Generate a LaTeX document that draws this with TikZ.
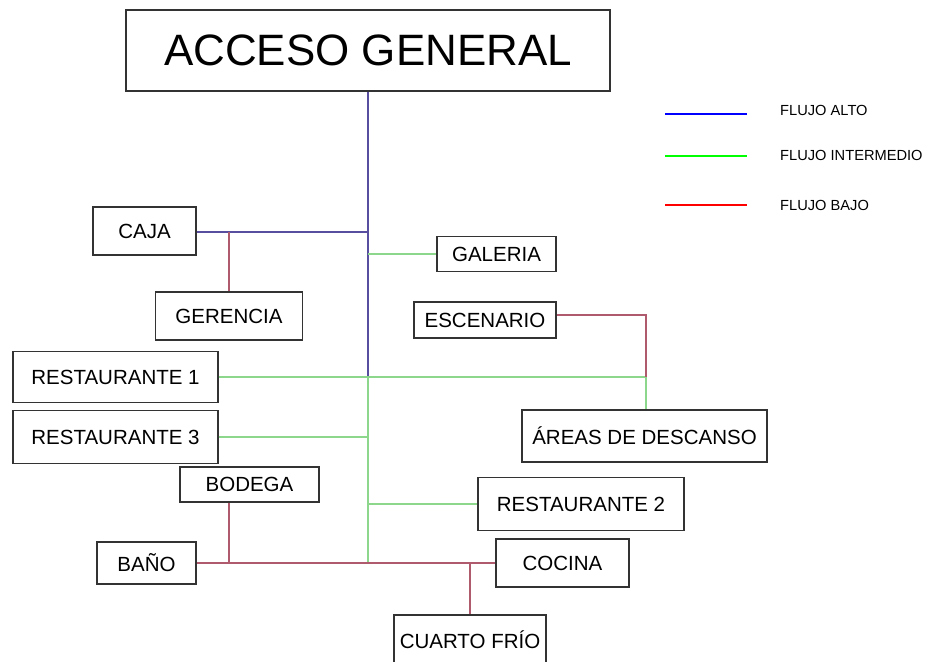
\documentclass[tikz,border=0pt]{standalone}
\usepackage{fontspec}
\setmainfont{Liberation Sans}
\usepackage{tikz}
\usepackage{xcolor}

\definecolor{altoC}{RGB}{88,78,160}
\definecolor{medioC}{RGB}{140,215,140}
\definecolor{bajoC}{RGB}{176,90,110}

\begin{document}
\begin{tikzpicture}[x=0.03cm, y=-0.03cm,
      box/.style={draw=black!80, line width=1.1pt, inner sep=0pt, align=center,
                  font=\fontsize{17.5}{20}\selectfont},
      size/.style 2 args={minimum width=#1*0.03cm, minimum height=#2*0.03cm},
      alto/.style={altoC, line width=0.9pt},
      medio/.style={medioC, line width=0.9pt},
      bajo/.style={bajoC, line width=0.9pt},
      key/.style={line width=2.2pt},
      keytext/.style={anchor=west, inner sep=0pt, font=\fontsize{12.5}{14}\selectfont}
    ]
      \useasboundingbox (0,0) rectangle (945,661);
      \clip (0,0) rectangle (945,661);
      % Acceso
      \node[box, size={484}{81}, font=\fontsize{37.5}{40}\selectfont] (acceso) at (368,50.5)
        {ACCESO GENERAL};
      % Lado izquierdo
      \node[box, size={103}{48}] (caja) at (144.5,231) {CAJA};
      \node[box, size={147}{48}] (gerencia) at (229,316) {GERENCIA};
      \node[box, size={205}{51}] (res1) at (115.5,377) {RESTAURANTE 1};
      \node[box, size={205}{53}] (res3) at (115.5,437) {RESTAURANTE 3};
      \node[box, size={139}{35}] (bodega) at (249.5,484.5) {BODEGA};
      \node[box, size={99}{42}] (bano) at (146.5,563) {BAÑO};
      % Lado derecho
      \node[box, size={119}{35}] (galeria) at (496.5,254) {GALERIA};
      \node[box, size={142}{36}] (escenario) at (485,320) {ESCENARIO};
      \node[box, size={245}{52}] (areas) at (644.5,436) {ÁREAS DE DESCANSO};
      \node[box, size={206}{53}] (res2) at (581,504) {RESTAURANTE 2};
      \node[box, size={133}{48}] (cocina) at (562.5,563) {COCINA};
      \node[box, size={152}{50}] (cuarto) at (470,640) {CUARTO FRÍO};

      % puntos de union
      \coordinate (jcaja) at (368,232);
      \coordinate (jger) at (229,232);
      \coordinate (jgal) at (368,254);
      \coordinate (jres1) at (368,377);
      \coordinate (jesc) at (646,315);
      \coordinate (jdes) at (646,377);
      \coordinate (jres3) at (368,437);
      \coordinate (jres2) at (368,504);
      \coordinate (jbase) at (368,563);
      \coordinate (jbod) at (229,563);
      \coordinate (jcua) at (470,563);

      % flujo alto
      \draw[alto] (acceso) -- (jres1);
      \draw[alto] (caja.east |- jcaja) -- (jcaja);
      % flujo intermedio
      \draw[medio] (jgal) -- (galeria);
      \draw[medio] (res1) -- (jdes);
      \draw[medio] (jdes) -- (jdes |- areas.north);
      \draw[medio] (res3) -- (jres3);
      \draw[medio] (jres1) -- (jbase);
      \draw[medio] (jres2) -- (res2);
      % flujo bajo
      \draw[bajo] (jger) -- (gerencia);
      \draw[bajo] (escenario.east |- jesc) -- (jesc) -- (jdes);
      \draw[bajo] (bano) -- (cocina);
      \draw[bajo] (jbod) -- (jbod |- bodega.south);
      \draw[bajo] (jcua) -- (cuarto);

      % Leyenda
      \node[keytext] (kalto) at (780,110) {FLUJO ALTO};
      \node[keytext] (kmedio) at (780,155) {FLUJO INTERMEDIO};
      \node[keytext] (kbajo) at (780,205) {FLUJO BAJO};
      \draw[key, blue] (665,114) -- (747,114);
      \draw[key, green] (665,156) -- (747,156);
      \draw[key, red] (665,205) -- (747,205);
    \end{tikzpicture}
\end{document}
